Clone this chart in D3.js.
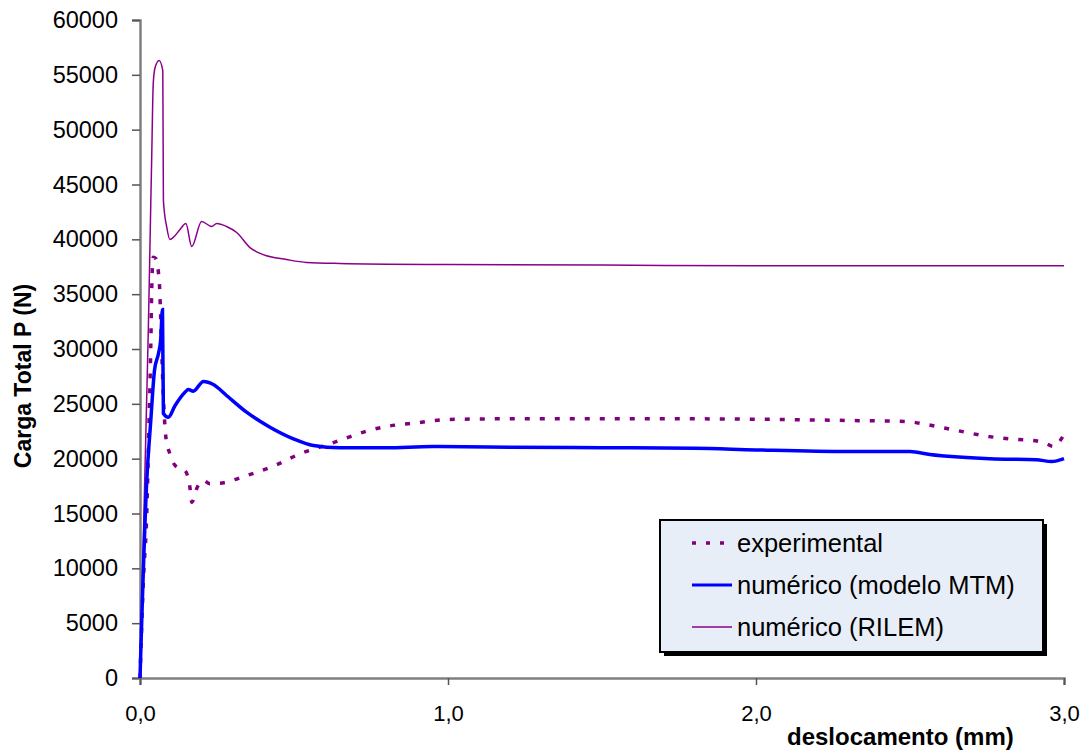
<!DOCTYPE html>
<head>
<meta charset="utf-8">
<script src="https://d3js.org/d3.v7.min.js"></script>
<style>
  body { margin: 0; background: #fff; }
  text { font-family: "Liberation Sans", Arial, sans-serif; }
</style>
</head>
<body>
<div id="main_div"></div>
<script>
// data (x in mm, P in N)
var rilemX = [0, 0.027, 0.035, 0.038, 0.043, 0.049, 0.062, 0.074, 0.076, 0.087, 0.097, 0.114, 0.130, 0.149, 0.168, 0.200, 0.233, 0.249, 0.281, 0.314, 0.357, 0.400, 0.476, 0.541, 0.649, 1.0, 1.5, 2.0, 2.5, 3.0];
var rilemY = [0, 31690, 43270, 47460, 54200, 55670, 56310, 55390, 43540, 41080, 39980, 40350, 40900, 41440, 39350, 41630, 41170, 41440, 41170, 40620, 39250, 38610, 38160, 37890, 37800, 37700, 37650, 37600, 37600, 37600];

var mtmX = [0, 0.022, 0.035, 0.047, 0.060, 0.067, 0.073, 0.076, 0.092, 0.114, 0.146, 0.157, 0.173, 0.206, 0.238, 0.281, 0.346, 0.422, 0.498, 0.563, 0.649, 0.8, 0.95, 1.2, 1.5, 1.8, 2.0, 2.3, 2.5, 2.565, 2.76, 2.91, 2.96, 3.0];
var mtmY = [0, 18010, 23480, 28040, 29590, 30780, 33600, 24120, 23780, 24850, 26060, 26300, 26150, 27040, 26760, 25760, 24240, 22870, 21810, 21200, 20990, 21000, 21100, 21050, 21000, 20950, 20800, 20650, 20650, 20380, 19990, 19900, 19740, 20010];

var expX = [0, 0.011, 0.022, 0.030, 0.035, 0.038, 0.043, 0.051, 0.063, 0.070, 0.076, 0.084, 0.097, 0.114, 0.146, 0.162, 0.168, 0.186, 0.206, 0.227, 0.260, 0.346, 0.444, 0.519, 0.584, 0.639, 0.693, 0.736, 0.806, 0.898, 0.996, 1.169, 1.494, 1.796, 2.305, 2.489, 2.554, 2.652, 2.749, 2.846, 2.900, 2.944, 2.965, 3.0];
var expY = [0, 8890, 14990, 24120, 30160, 35330, 38370, 38250, 35940, 30160, 25600, 21960, 20440, 19380, 18920, 17400, 16030, 17400, 18010, 17710, 17760, 18460, 19440, 20440, 21050, 21570, 22110, 22510, 22960, 23270, 23570, 23630, 23630, 23630, 23480, 23390, 23110, 22570, 22050, 21750, 21660, 21350, 21110, 22200];

var xTicks = [0, 1, 2, 3];
var yTicks = d3.range(0, 60001, 5000);
var legendLabels = ["experimental", "numérico (modelo MTM)", "numérico (RILEM)"];

var W = 1087, H = 753;
var margin = {top: 20, right: 23, bottom: 75, left: 140};
var width = W - margin.left - margin.right,
    height = H - margin.top - margin.bottom;

var x = d3.scaleLinear().domain([0, 3]).range([0, width]);
var y = d3.scaleLinear().domain([0, 60000]).range([height, 0]);

var svg = d3.select("#main_div").append("svg")
    .attr("width", W)
    .attr("height", H)
    .style("display", "block");
var g = svg.append("g")
    .attr("transform", "translate(" + margin.left + "," + margin.top + ")");

// axes
var yAxis = g.append("g")
    .call(d3.axisLeft(y).tickValues(yTicks).tickSize(8).tickPadding(14).tickFormat(d3.format("d")));
var xAxis = g.append("g")
    .attr("transform", "translate(0," + height + ")")
    .call(d3.axisBottom(x).tickValues(xTicks).tickSize(7).tickPadding(20)
        .tickFormat(function(d){ return d3.format(".1f")(d).replace(".", ","); }));
[xAxis, yAxis].forEach(function(a){
    a.select(".domain").attr("stroke", "#808080").attr("stroke-width", 2.5);
    a.selectAll(".tick line").attr("stroke", "#555").attr("stroke-width", 1.5);
    a.selectAll(".tick text").attr("fill", "#000")
        .style("font-family", "'Liberation Sans', Arial, sans-serif");
});
yAxis.selectAll(".tick text").style("font-size", "23.5px");
xAxis.selectAll(".tick text").style("font-size", "22px");

// lines
function pts(xs, ys){ return xs.map(function(v, i){ return [v, ys[i]]; }); }
var line = d3.line().curve(d3.curveMonotoneX)
    .x(function(d){ return x(d[0]); }).y(function(d){ return y(d[1]); });

g.append("path").datum(pts(rilemX, rilemY))
    .attr("d", line).attr("fill", "none")
    .attr("stroke", "#8B008B").attr("stroke-width", 1.5);
g.append("path").datum(pts(expX, expY))
    .attr("d", line).attr("fill", "none")
    .attr("stroke", "#800080").attr("stroke-width", 3.5).attr("stroke-dasharray", "5,10");
g.append("path").datum(pts(mtmX, mtmY))
    .attr("d", line).attr("fill", "none")
    .attr("stroke", "#0000FF").attr("stroke-width", 3.5);

// axis titles
svg.append("text")
    .attr("x", 787).attr("y", 745)
    .style("font-size", "24px").style("font-weight", "bold")
    .text("deslocamento (mm)");
svg.append("text")
    .attr("transform", "translate(31," + 376 + ") rotate(-90)")
    .attr("text-anchor", "middle")
    .style("font-size", "23px").style("font-weight", "bold")
    .text("Carga Total P (N)");

// legend
var lg = svg.append("g").attr("transform", "translate(660,520)");
lg.append("rect").attr("x", 4).attr("y", 4).attr("width", 383).attr("height", 132).attr("fill", "#000");
lg.append("rect").attr("width", 383).attr("height", 132)
    .attr("fill", "#e8eef8").attr("stroke", "#000").attr("stroke-width", 2);
var styles = [
    {stroke: "#800080", w: 3.5, dash: "4,10"},
    {stroke: "#0000FF", w: 3, dash: null},
    {stroke: "#8B008B", w: 1.5, dash: null}
];
legendLabels.forEach(function(lbl, i){
    var cy = 23 + i * 42;
    lg.append("line").attr("x1", 32).attr("x2", 72).attr("y1", cy).attr("y2", cy)
        .attr("stroke", styles[i].stroke).attr("stroke-width", styles[i].w)
        .attr("stroke-dasharray", styles[i].dash);
    lg.append("text").attr("x", 77).attr("y", cy + 9)
        .style("font-size", "25.5px").text(lbl);
});
</script>
</body>
